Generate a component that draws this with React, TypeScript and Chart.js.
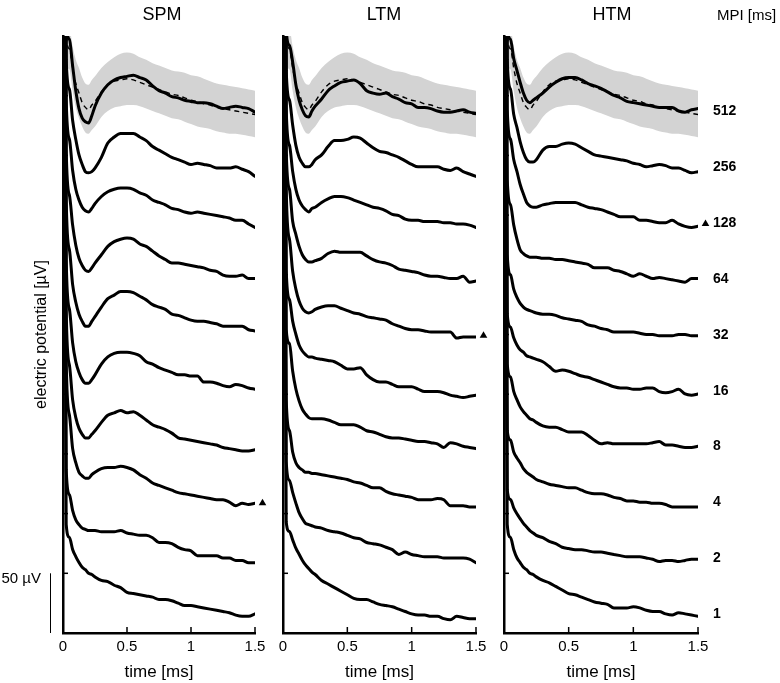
import React, { useEffect, useRef } from 'react';
import { Chart, registerables } from 'chart.js';

Chart.register(...registerables);
Chart.defaults.font.family = '"Liberation Sans", Arial, Helvetica, sans-serif';
Chart.defaults.color = '#000';

// time axis (ms)
const TIME_MS = [0, 0.025, 0.05, 0.075, 0.1, 0.125, 0.15, 0.175, 0.2, 0.225, 0.25, 0.3, 0.35, 0.4, 0.45, 0.5, 0.55, 0.6, 0.65, 0.7, 0.75, 0.8, 0.85, 0.9, 0.95, 1.0, 1.05, 1.1, 1.15, 1.2, 1.25, 1.3, 1.35, 1.4, 1.45, 1.5];
const X_TICK_STEP = 0.5;
const Y_TICK_STEP_UV = 50;
const Y_MAX_UV = 500;

// MPI levels, bottom to top
const MPI_LABELS = ['1', '2', '4', '8', '16', '32', '64', '128', '256', '512'];
// vertical stacking of the traces (µV)
const TRACE_BASE_UV = 15;
const TRACE_STEP_UV = 46.8;

// ---- SPM traces (µV relative to each trace's baseline; t=0 is the off-scale artefact)
const SPM_MPI_1 = [800, 76, 65, 55, 49, 44, 40, 38, 35, 34, 32, 29, 28, 25, 23, 19, 18, 17, 16, 15, 13, 13, 12, 10, 8, 8, 7, 6, 5, 4, 3, 2, 0, -1, -1, 1];
const SPM_MPI_2 = [800, 75, 54, 41, 33, 29, 26, 25, 24, 24, 24, 23, 23, 23, 24, 22, 21, 20, 20, 18, 14, 14, 13, 10, 8, 7, 3, 3, 3, 3, 1, 1, -1, -1, -3, -3];
const SPM_MPI_4 = [800, 120, 74, 46, 34, 26, 23, 21, 21, 24, 26, 29, 30, 30, 31, 30, 28, 24, 21, 17, 15, 13, 11, 9, 8, 7, 6, 5, 4, 3, 3, 1, -2, 0, -1, 0];
const SPM_MPI_8 = [800, 115, 69, 40, 25, 16, 11, 8, 8, 11, 14, 21, 27, 29, 31, 29, 30, 27, 23, 19, 17, 15, 12, 8, 7, 6, 5, 4, 3, 2, 0, -1, -2, -3, -3, -2];
const SPM_MPI_16 = [800, 111, 69, 41, 25, 16, 10, 7, 7, 10, 14, 23, 29, 32, 33, 33, 32, 30, 25, 23, 20, 18, 16, 14, 14, 13, 13, 8, 8, 7, 5, 4, 6, 5, 3, 2];
const SPM_MPI_32 = [800, 114, 72, 43, 28, 18, 12, 8, 8, 12, 16, 24, 31, 34, 37, 37, 36, 33, 30, 26, 24, 22, 18, 17, 15, 13, 12, 12, 11, 10, 8, 8, 8, 8, 5, 4];
const SPM_MPI_64 = [800, 109, 71, 46, 29, 18, 12, 8, 7, 10, 14, 21, 28, 32, 34, 35, 34, 30, 28, 24, 20, 17, 14, 14, 13, 12, 11, 10, 8, 7, 4, 3, 3, 4, 1, 1];
const SPM_MPI_128 = [800, 104, 71, 45, 29, 20, 14, 11, 10, 13, 17, 23, 27, 29, 30, 30, 29, 26, 24, 20, 18, 16, 13, 12, 10, 9, 10, 9, 8, 7, 6, 5, 3, 3, 0, -3];
const SPM_MPI_256 = [800, 91, 66, 40, 24, 11, 3, -3, -4, -3, 0, 9, 21, 26, 29, 29, 29, 26, 23, 18, 15, 12, 9, 7, 5, 3, 4, 3, 2, 0, 0, 0, 1, -1, -3, -7];
const SPM_MPI_512 = [800, 77, 61, 39, 18, 3, -5, -8, -9, -3, 5, 16, 23, 27, 29, 30, 31, 29, 27, 22, 18, 16, 13, 12, 10, 9, 8, 8, 7, 5, 3, 4, 5, 4, 3, 0];

// ---- LTM traces
const LTM_MPI_1 = [800, 78, 70, 63, 56, 51, 46, 42, 39, 36, 34, 29, 26, 23, 20, 17, 14, 13, 13, 11, 9, 8, 7, 5, 3, 1, 0, 0, -1, -1, -3, -4, -1, -2, -3, -3];
const LTM_MPI_2 = [800, 82, 66, 56, 47, 39, 34, 30, 29, 28, 27, 26, 24, 23, 22, 20, 18, 17, 14, 13, 12, 10, 8, 4, 6, 4, 3, 2, 2, 2, 1, 1, 1, 1, 0, -3];
const LTM_MPI_4 = [800, 87, 61, 43, 34, 30, 28, 26, 26, 25, 25, 24, 23, 22, 21, 20, 18, 17, 15, 13, 13, 10, 8, 7, 6, 5, 3, 3, 3, 4, 3, -2, -2, -2, -3, -3];
const LTM_MPI_8 = [800, 99, 87, 64, 49, 39, 32, 28, 25, 24, 24, 24, 23, 21, 19, 19, 19, 17, 14, 13, 11, 9, 8, 8, 7, 6, 5, 5, 4, 3, 0, 4, 3, 1, 0, -1];
const LTM_MPI_16 = [800, 102, 77, 59, 48, 39, 34, 31, 29, 29, 28, 27, 26, 25, 22, 19, 19, 20, 14, 10, 8, 8, 6, 4, 4, 4, 2, 0, 0, 0, -1, -3, -4, -5, -4, -3];
const LTM_MPI_32 = [800, 123, 81, 54, 39, 29, 23, 20, 19, 20, 22, 24, 25, 25, 23, 21, 19, 18, 16, 15, 14, 13, 10, 8, 6, 5, 5, 4, 3, 3, 3, 3, -2, -1, -1, -1];
const LTM_MPI_64 = [800, 109, 76, 49, 38, 28, 21, 17, 15, 15, 16, 18, 22, 24, 23, 23, 23, 23, 20, 17, 15, 14, 12, 9, 8, 7, 6, 4, 3, 3, 2, 1, 1, 3, -2, -1];
const LTM_MPI_128 = [800, 96, 66, 44, 29, 20, 15, 12, 10, 13, 14, 18, 21, 23, 23, 22, 20, 18, 16, 14, 13, 11, 8, 7, 4, 3, 3, 2, 2, 2, 1, 1, 0, 0, -1, -3];
const LTM_MPI_256 = [800, 82, 57, 36, 19, 9, 4, 1, 1, 3, 7, 11, 18, 23, 23, 24, 26, 25, 21, 17, 14, 13, 11, 9, 6, 3, 1, 1, 1, 1, -1, -2, 0, -3, -5, -7];
const LTM_MPI_512 = [800, 69, 56, 42, 23, 10, 2, -3, -4, 1, 5, 11, 18, 22, 25, 26, 27, 24, 18, 16, 15, 16, 13, 11, 8, 7, 4, 4, 3, 1, 0, 0, 1, 2, 0, -1];

// ---- HTM traces
const HTM_MPI_1 = [800, 76, 65, 55, 48, 44, 40, 38, 35, 34, 32, 29, 27, 24, 21, 18, 17, 15, 13, 11, 10, 9, 6, 6, 6, 7, 6, 4, 3, 3, 1, 0, 2, 1, 0, -1];
const HTM_MPI_2 = [800, 58, 50, 43, 38, 34, 30, 27, 24, 22, 20, 18, 15, 13, 10, 9, 8, 8, 7, 6, 6, 5, 4, 3, 2, 2, 2, 1, 0, -2, -1, -1, -2, -1, 0, 0];
const HTM_MPI_4 = [800, 61, 53, 43, 38, 34, 29, 26, 24, 22, 20, 18, 16, 15, 14, 13, 13, 11, 9, 8, 8, 7, 5, 4, 2, 2, 1, 1, 0, 0, -1, -3, -3, -3, -3, -3];
const HTM_MPI_8 = [800, 70, 59, 47, 40, 34, 30, 27, 24, 23, 21, 18, 17, 17, 15, 13, 13, 13, 10, 6, 3, 4, 3, 3, 3, 3, 3, 3, 4, 5, 2, 2, 1, 0, 0, 1];
const HTM_MPI_16 = [800, 65, 54, 45, 39, 35, 33, 30, 29, 28, 27, 25, 21, 17, 18, 17, 15, 13, 12, 10, 8, 6, 4, 3, 3, 2, 2, 3, 3, 0, -1, 0, 2, -2, -3, -2];
const HTM_MPI_32 = [800, 68, 51, 39, 32, 27, 24, 22, 21, 20, 19, 18, 18, 17, 15, 14, 13, 12, 9, 8, 6, 5, 3, 3, 3, 3, 2, 1, 1, 0, 0, 0, 1, 1, 0, 0];
const HTM_MPI_64 = [800, 84, 63, 46, 34, 25, 22, 20, 19, 19, 19, 18, 18, 17, 17, 16, 15, 14, 13, 10, 10, 10, 8, 7, 5, 3, 5, 3, 1, 2, 1, 0, -1, -2, 1, 1];
const HTM_MPI_128 = [800, 96, 71, 54, 44, 33, 25, 18, 15, 14, 14, 16, 17, 18, 18, 18, 18, 16, 14, 13, 12, 10, 8, 6, 6, 6, 3, 3, 2, 1, 1, 3, 0, -2, -3, -2];
const HTM_MPI_256 = [800, 91, 66, 45, 34, 22, 13, 7, 5, 5, 7, 15, 18, 18, 20, 21, 20, 17, 14, 11, 10, 9, 8, 7, 6, 4, 3, 1, 2, 3, 2, 0, 0, -2, -4, -3];
const HTM_MPI_512 = [800, 73, 61, 45, 35, 25, 16, 10, 8, 10, 12, 16, 21, 25, 28, 29, 29, 27, 24, 22, 20, 17, 14, 12, 9, 8, 7, 6, 5, 4, 4, 4, 1, 0, 2, 3];

// ---- reference band (mean ± SD) shown with the 512 ms traces
const BAND_UPPER = [900, 85, 70, 55, 44, 37, 29, 24, 23, 27, 30, 37, 42, 46, 49, 50, 49, 46, 44, 41, 39, 37, 35, 34, 33, 31, 30, 28, 26, 24, 23, 22, 21, 20, 19, 18];
const BAND_LOWER = [850, 50, 36, 18, 4, -5, -12, -17, -18, -15, -12, -4, 1, 4, 5, 6, 6, 5, 3, 1, -1, -3, -5, -6, -8, -10, -12, -13, -14, -16, -17, -18, -18, -19, -20, -21];
const BAND_MEAN = [870, 67, 53, 37, 24, 16, 8, 4, 2, 6, 9, 17, 23, 26, 27, 28, 27, 25, 23, 21, 19, 17, 15, 14, 12, 10, 9, 7, 6, 4, 3, 2, 1, 0, -1, -2];

const PANEL_TITLES = ['SPM', 'LTM', 'HTM'];
const PANEL_TRACES = [
  [SPM_MPI_1, SPM_MPI_2, SPM_MPI_4, SPM_MPI_8, SPM_MPI_16, SPM_MPI_32, SPM_MPI_64, SPM_MPI_128, SPM_MPI_256, SPM_MPI_512],
  [LTM_MPI_1, LTM_MPI_2, LTM_MPI_4, LTM_MPI_8, LTM_MPI_16, LTM_MPI_32, LTM_MPI_64, LTM_MPI_128, LTM_MPI_256, LTM_MPI_512],
  [HTM_MPI_1, HTM_MPI_2, HTM_MPI_4, HTM_MPI_8, HTM_MPI_16, HTM_MPI_32, HTM_MPI_64, HTM_MPI_128, HTM_MPI_256, HTM_MPI_512],
];
const PANEL_MARKED_MPI = ['4', '32', '128'];

// layout (pixels) — not data
const W = 780;
const H = 683;
const LAYOUT = [
  { left: 63, right: 255, titleX: 162 },
  { left: 283, right: 476, titleX: 384 },
  { left: 504, right: 698, titleX: 612 },
];
const FONT = '"Liberation Sans", Arial, Helvetica, sans-serif';

const offsetOf = (k: number) => TRACE_BASE_UV + k * TRACE_STEP_UV;
const toPoints = (vals: number[], k: number) =>
  TIME_MS.map((t, i) => ({ x: t, y: vals[i] + offsetOf(k) }));

function makeDecor(index: number) {
  return {
    id: 'decor' + index,
    afterDraw(chart: any) {
      const { ctx, chartArea, scales } = chart;
      const xs = scales.x;
      const ys = scales.y;
      ctx.save();
      ctx.strokeStyle = '#000';
      ctx.fillStyle = '#000';
      ctx.lineWidth = 1.5;
      // inward ticks
      xs.ticks.forEach((t: any) => {
        if (t.value <= xs.min) return;
        const px = xs.getPixelForValue(t.value);
        ctx.beginPath();
        ctx.moveTo(px, chartArea.bottom);
        ctx.lineTo(px, chartArea.bottom - 6);
        ctx.stroke();
      });
      ys.ticks.forEach((t: any) => {
        if (t.value <= ys.min || t.value >= ys.max) return;
        const py = ys.getPixelForValue(t.value);
        ctx.beginPath();
        ctx.moveTo(chartArea.left, py);
        ctx.lineTo(chartArea.left + 5, py);
        ctx.stroke();
      });
      // panel title
      ctx.font = '18px ' + FONT;
      ctx.textAlign = 'center';
      ctx.textBaseline = 'alphabetic';
      ctx.fillText(PANEL_TITLES[index], LAYOUT[index].titleX, 20);
      // triangle marker
      const k = MPI_LABELS.indexOf(PANEL_MARKED_MPI[index]);
      const tx = xs.getPixelForValue(xs.max) + 7.5;
      const ty = ys.getPixelForValue(offsetOf(k)) - 1;
      ctx.beginPath();
      ctx.moveTo(tx, ty - 3.5);
      ctx.lineTo(tx + 3.8, ty + 3);
      ctx.lineTo(tx - 3.8, ty + 3);
      ctx.closePath();
      ctx.fill();
      if (index === 0) {
        // 50 µV scale bar
        const y0 = ys.getPixelForValue(0);
        const y1 = ys.getPixelForValue(Y_TICK_STEP_UV);
        ctx.lineWidth = 1;
        ctx.beginPath();
        ctx.moveTo(50.5, y0);
        ctx.lineTo(50.5, y1);
        ctx.stroke();
        ctx.font = '15px ' + FONT;
        ctx.textAlign = 'right';
        ctx.textBaseline = 'middle';
        ctx.fillText('50 µV', 41, y1 + 6);
      }
      if (index === 2) {
        ctx.font = '15px ' + FONT;
        ctx.textAlign = 'left';
        ctx.textBaseline = 'alphabetic';
        ctx.fillText('MPI [ms]', chartArea.right + 19, 20);
        ctx.font = 'bold 14px ' + FONT;
        MPI_LABELS.forEach((lab, kk) => {
          const py = ys.getPixelForValue(offsetOf(kk));
          ctx.fillText(lab, chartArea.right + 15, py + 3);
        });
      }
      ctx.restore();
    },
  };
}

function Panel({ index }: { index: number }) {
  const ref = useRef<HTMLCanvasElement>(null);
  useEffect(() => {
    if (!ref.current) return;
    const traces = PANEL_TRACES[index];
    const top = traces.length - 1;
    const lineBase = {
      pointRadius: 0,
      fill: false,
      cubicInterpolationMode: 'monotone',
      borderJoinStyle: 'round',
      borderCapStyle: 'round',
    };
    const datasets: any[] = [];
    datasets.push({
      ...lineBase,
      label: 'mean',
      data: toPoints(BAND_MEAN, top),
      borderColor: '#000',
      borderWidth: 1.4,
      borderDash: [5, 4],
      borderCapStyle: 'butt',
    });
    traces.forEach((tr, k) =>
      datasets.push({
        ...lineBase,
        label: 'MPI ' + MPI_LABELS[k],
        data: toPoints(tr, k),
        borderColor: '#000',
        borderWidth: 3,
      })
    );
    datasets.push({
      ...lineBase,
      label: 'upper',
      data: toPoints(BAND_UPPER, top),
      borderWidth: 0,
      borderColor: 'rgba(0,0,0,0)',
      backgroundColor: '#d3d3d3',
      fill: '+1',
    });
    datasets.push({
      ...lineBase,
      label: 'lower',
      data: toPoints(BAND_LOWER, top),
      borderWidth: 0,
      borderColor: 'rgba(0,0,0,0)',
    });

    const L = LAYOUT[index];
    const yWidth = index === 0 ? 33 : 10;
    const chart = new Chart(ref.current, {
      type: 'line',
      data: { datasets },
      options: {
        responsive: false,
        animation: false,
        events: [],
        layout: { padding: { left: L.left - yWidth, right: W - L.right, top: 36, bottom: 0 } },
        plugins: { legend: { display: false }, tooltip: { enabled: false }, title: { display: false } },
        scales: {
          x: {
            type: 'linear',
            min: 0,
            max: 1.5,
            ticks: {
              stepSize: X_TICK_STEP,
              font: { size: 15 },
              color: '#000',
              padding: 5,
              maxRotation: 0,
              autoSkip: false,
              callback: (v: any) => String(Number(v)),
            },
            grid: { display: false, drawTicks: false },
            border: { display: true, color: '#000', width: 2.5 },
            title: { display: true, text: 'time [ms]', font: { size: 17 }, color: '#000', padding: { top: 0, bottom: 0 } },
            afterFit: (s: any) => { s.height = 50; },
          },
          y: {
            type: 'linear',
            min: 0,
            max: Y_MAX_UV,
            ticks: { stepSize: Y_TICK_STEP_UV, display: false },
            grid: { display: false, drawTicks: false },
            border: { display: true, color: '#000', width: 2.5 },
            title: index === 0
              ? { display: true, text: 'electric potential [µV]', font: { size: 16 }, color: '#000', padding: { top: 2.4, bottom: 0 } }
              : { display: false },
            afterFit: (s: any) => { s.width = yWidth; },
          },
        },
      } as any,
      plugins: [makeDecor(index)],
    });
    return () => chart.destroy();
  }, [index]);
  return (
    <canvas
      ref={ref}
      width={W}
      height={H}
      style={{ position: 'absolute', left: 0, top: 0, width: W, height: H }}
    />
  );
}

export default function App() {
  return (
    <div style={{ position: 'absolute', left: 0, top: 0, width: W, height: H, background: '#fff' }}>
      {[0, 1, 2].map((i) => (
        <Panel key={i} index={i} />
      ))}
    </div>
  );
}
